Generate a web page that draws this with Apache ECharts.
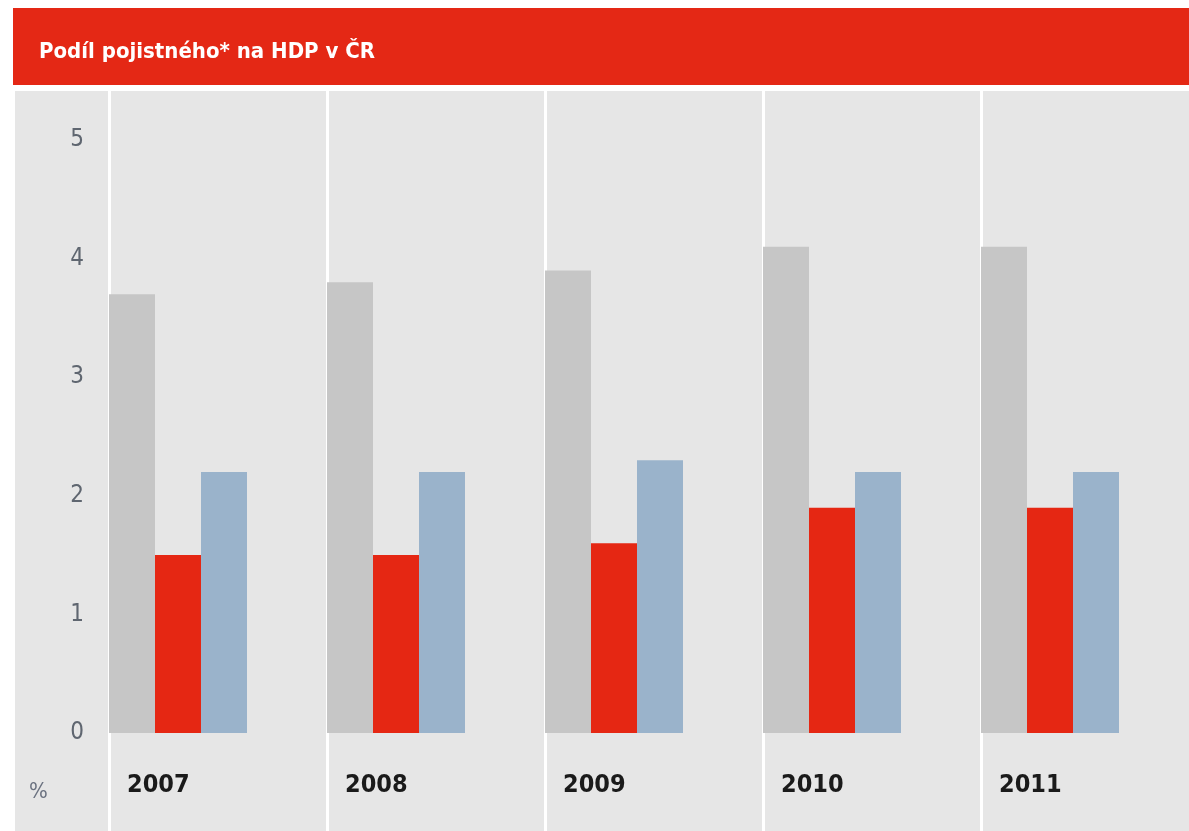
<!DOCTYPE html>
<html>
<head>
<meta charset="utf-8">
<title>Podíl pojistného na HDP v ČR</title>
<script src="https://cdn.jsdelivr.net/npm/echarts@6/dist/echarts.min.js"></script>
<style>
    html, body { margin: 0; padding: 0; background: #fff; }
    #bar { width: 1189px; height: 831px; }
</style>
</head>
<body>
<div id="bar"></div>
<script>
// roky
const years = ['2007', '2008', '2009', '2010', '2011']
// tři řady sloupců, v %
const greyValues = [3.7, 3.8, 3.9, 4.1, 4.1]
const redValues = [1.5, 1.5, 1.6, 1.9, 1.9]
const blueValues = [2.2, 2.2, 2.3, 2.2, 2.2]
// popisky osy y
const yTicks = [0, 1, 2, 3, 4, 5]

const narrow = '"DejaVu Sans Condensed", "Liberation Sans Narrow", sans-serif'

function barInit () {
    const barChart = echarts.init(document.getElementById('bar'))

    function makeBar (name, data, color) {
        return {
            name,
            type: 'bar',
            data,
            barWidth: 46,
            barGap: 0,
            itemStyle: { color },
            emphasis: { disabled: true }
        }
    }

    const option = {
        animation: false,
        title: {
            text: 'Podíl pojistného* na HDP v ČR',
            left: 34,
            top: 36,
            textStyle: {
                color: '#fff',
                fontFamily: narrow,
                fontWeight: 'bold',
                fontSize: 22
            }
        },
        graphic: [
            // červený pruh s nadpisem
            { type: 'rect', z: -10, silent: true, shape: { x: 13, y: 8, width: 1176, height: 77 }, style: { fill: '#e42815' } },
            // šedé pozadí grafu
            { type: 'rect', z: -10, silent: true, shape: { x: 15, y: 91, width: 1174, height: 740 }, style: { fill: '#e6e6e6' } },
            {
                type: 'text', left: 29, top: 781, silent: true,
                style: { text: '%', fill: '#6b7280', font: '22px ' + narrow }
            }
        ],
        grid: {
            left: 109,
            top: 91,
            width: 1090,
            bottom: 98,
            outerBoundsMode: 'none'
        },
        xAxis: {
            type: 'category',
            data: years,
            boundaryGap: true,
            axisLine: { show: false },
            axisTick: {
                show: true,
                length: 98,
                lineStyle: { color: '#fff', width: 3 }
            },
            splitLine: {
                show: true,
                lineStyle: { color: '#fff', width: 3 }
            },
            axisLabel: {
                margin: 40,
                formatter: (v) => '{y|' + v + '}',
                rich: {
                    y: {
                        width: 182,
                        align: 'left',
                        color: '#1a1a1a',
                        fontFamily: narrow,
                        fontWeight: 'bold',
                        fontSize: 25
                    }
                }
            }
        },
        yAxis: {
            type: 'value',
            min: 0,
            max: 642 / 118.6,
            interval: 1,
            axisLine: { show: false },
            axisTick: { show: false },
            splitLine: { show: false },
            axisLabel: {
                margin: 25,
                showMaxLabel: false,
                color: '#5f6670',
                fontFamily: narrow,
                fontSize: 24,
                formatter: (v) => yTicks.indexOf(v) >= 0 ? String(v) : ''
            }
        },
        series: [
            makeBar('a', greyValues, '#c6c6c6'),
            makeBar('b', redValues, '#e52713'),
            makeBar('c', blueValues, '#9ab3cb'),
            // prázdná řada, aby sloupce začínaly u levé hrany kategorie
            {
                name: 'mezera',
                type: 'bar',
                data: years.map(() => 0),
                barWidth: 80,
                barGap: 0,
                silent: true,
                itemStyle: { color: 'rgba(0,0,0,0)' }
            }
        ]
    }
    barChart.setOption(option)
}

barInit()
</script>
</body>
</html>
